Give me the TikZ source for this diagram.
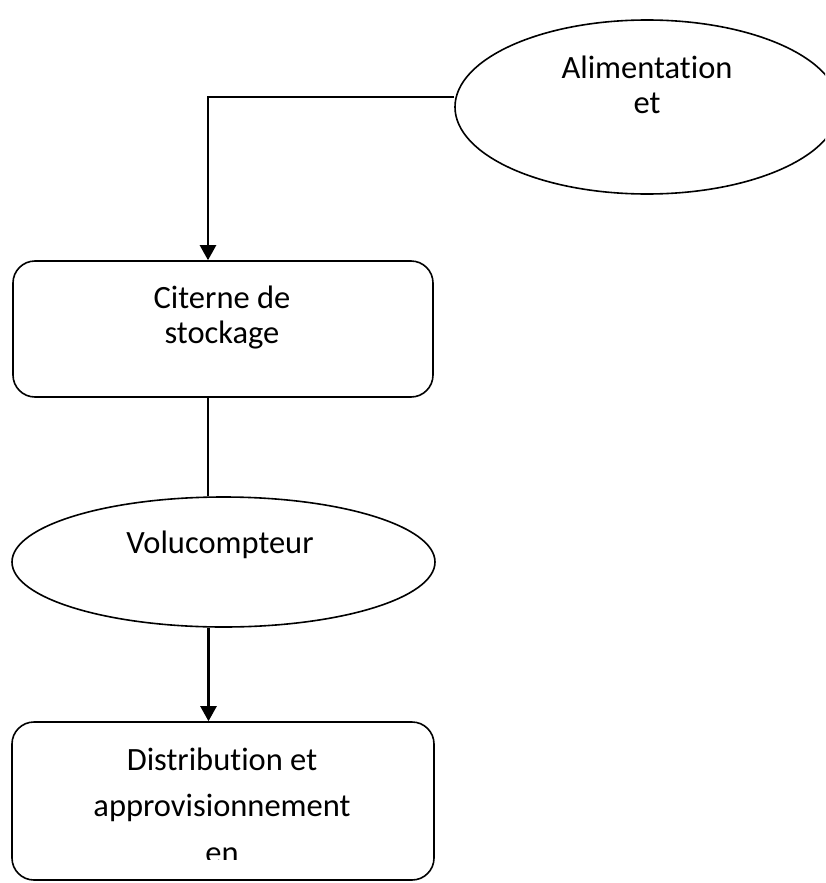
\documentclass[tikz,border=0pt]{standalone}
\usepackage{fontspec}
\setmainfont{Carlito}[Ligatures=NoCommon]
\usetikzlibrary{shapes.geometric,arrows.meta}
\tikzset{
  shapeline/.style={draw=black, line width=1.6pt},
  ovalbox/.style={shapeline, ellipse, inner sep=0pt},
  roundbox/.style={shapeline, rectangle, rounded corners=22pt, inner sep=0pt},
  txt/.style={font=\fontsize{32.5}{36}\selectfont, inner sep=0pt, anchor=base},
  arrowline/.style={line width=2.4pt, -{Triangle[width=16pt,length=15pt]}},
  thinline/.style={line width=1.3pt}
}
\begin{document}
\begin{tikzpicture}[x=1pt,y=-1pt]
\clip (0,0) rectangle (825,883);
\fill[white] (0,0) rectangle (825,883);
% shapes
\node[ovalbox, minimum width=384pt, minimum height=174pt] (e1) at (647,107) {};
\node[roundbox, minimum width=420pt, minimum height=136pt] (b1) at (223,329) {};
\node[ovalbox, minimum width=423pt, minimum height=130pt] (e2) at (223.5,562) {};
\node[roundbox, minimum width=422pt, minimum height=158pt] (b2) at (223,801) {};
% texts
\node[txt] (t1a) at (647,78) {Alimentation};
\node[txt] (t1b) at (647,113) {et};
\node[txt] (t2a) at (222,308) {Citerne de};
\node[txt] (t2b) at (222,343) {stockage};
\node[txt] (t3) at (220,553) {Volucompteur};
\node[txt] (t4a) at (222,770) {Distribution et};
\node[txt] (t4b) at (222,816) {approvisionnement};
\begin{scope}
  \clip (b2.north west) rectangle ([yshift=21pt]b2.south east);
  \node[txt] (t4c) at (222,863) {en};
\end{scope}
% connectors
\draw[arrowline] ([yshift=10pt]e1.west) -| ([xshift=-15pt]b1.north);
\draw[thinline] ([xshift=-15pt]b1.south) -- ([xshift=-15pt]b1.south |- e2.north);
\draw[arrowline] ([xshift=-15pt]e2.south) -- ([xshift=-15pt]e2.south |- b2.north);
\end{tikzpicture}
\end{document}
